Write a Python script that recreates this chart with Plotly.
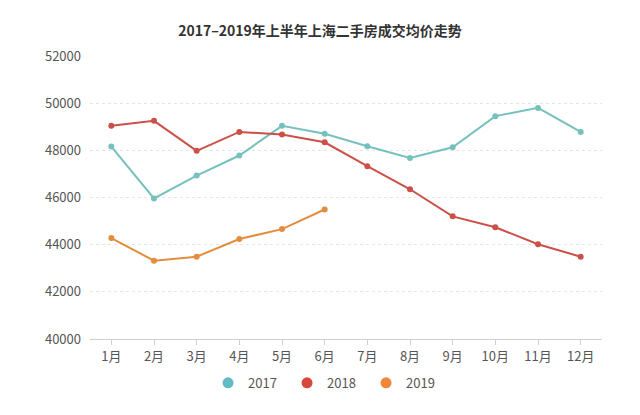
import plotly.graph_objects as go

months = ["1月", "2月", "3月", "4月", "5月", "6月", "7月", "8月", "9月", "10月", "11月", "12月"]
y2017 = [48160, 45960, 46930, 47780, 49040, 48700, 48170, 47680, 48130, 49450, 49800, 48780]
y2018 = [49040, 49250, 47980, 48780, 48670, 48340, 47330, 46350, 45200, 44740, 44020, 43490]
y2019 = [44280, 43320, 43490, 44240, 44660, 45490]
y_ticks = [40000, 42000, 44000, 46000, 48000, 50000, 52000]

series = [
    ("2017", y2017, "#76c1bd", "#62bac4"),
    ("2018", y2018, "#cb5048", "#d9473f"),
    ("2019", y2019, "#e38d3f", "#f0863a"),
]

font_family = "Noto Sans CJK SC, Noto Sans, sans-serif"

fig = go.Figure()
for name, ys, line_color, legend_color in series:
    fig.add_trace(go.Scatter(
        x=months[:len(ys)], y=ys, name=name, mode="lines+markers",
        line=dict(color=line_color, width=2),
        marker=dict(color=line_color, size=6),
        showlegend=False,
    ))
for name, ys, line_color, legend_color in series:
    fig.add_trace(go.Scatter(
        x=[None], y=[None], name=name, mode="markers",
        marker=dict(color=legend_color, size=11),
        showlegend=True,
    ))

fig.update_layout(
    width=640, height=415,
    margin=dict(l=90, r=38, t=56, b=76),
    paper_bgcolor="white", plot_bgcolor="white",
    font=dict(family=font_family, size=13, color="#555555"),
    title=dict(text="<b>2017–2019年上半年上海二手房成交均价走势</b>",
               x=0.5, xanchor="center", y=0.925, yanchor="middle",
               font=dict(size=14, color="#333333", family=font_family)),
    legend=dict(orientation="h", x=0.462, xanchor="center", y=-0.155, yanchor="middle",
                font=dict(size=13, color="#555555"), itemsizing="trace",
                itemwidth=30, entrywidth=34, entrywidthmode="pixels"),
    xaxis=dict(type="category", categoryorder="array", categoryarray=months,
               range=[-0.5, 11.5], showgrid=False, showline=True,
               linecolor="#cfcfcf", linewidth=1, ticks="outside", ticklen=5,
               tickcolor="#cfcfcf", tickfont=dict(size=13, color="#555555"),
               fixedrange=True),
    yaxis=dict(range=[40000, 52000], tickvals=y_ticks, ticktext=[str(v) for v in y_ticks],
               showgrid=True, gridcolor="#e6e6e6", griddash="3px,3px", gridwidth=1,
               zeroline=False, showline=False, ticks="", ticklabelstandoff=8,
               tickfont=dict(size=13, color="#555555"), fixedrange=True),
)

fig.write_html("out.html", post_script="document.body.style.margin='0';",
               config={"displayModeBar": False})
